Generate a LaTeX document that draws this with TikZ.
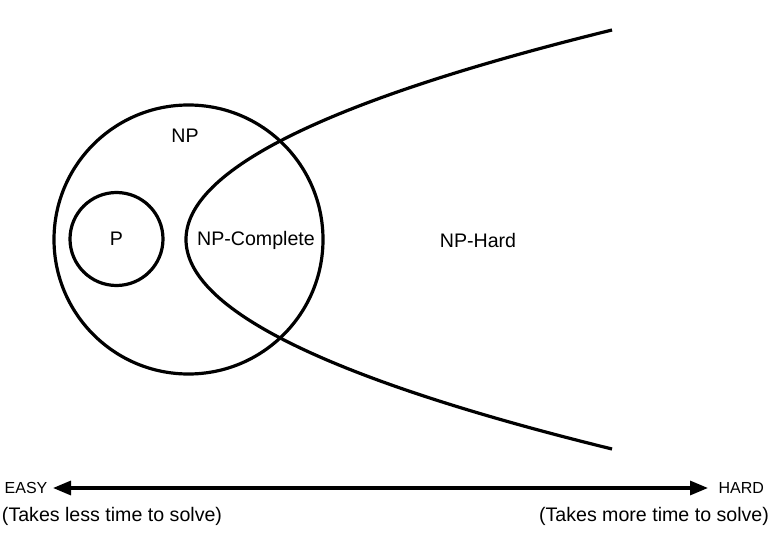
\documentclass[tikz,border=0pt]{standalone}
\usepackage{fontspec}
\setmainfont{Liberation Sans}
\usetikzlibrary{arrows.meta, positioning}

\begin{document}
\begin{tikzpicture}[x=0.5pt, y=-0.5pt, line width=1.6pt,
    set/.style={circle, draw, inner sep=0pt},
    lbl/.style={font=\fontsize{9.8}{12}\selectfont},
    tag/.style={font=\fontsize{8}{10}\selectfont}]
  \useasboundingbox (0,0) rectangle (777,540);
  % Sets
  \node[set, minimum size=134.5pt] (np) at (188.5,239.5) {};
  \node[set, minimum size=46.5pt] (p) at (116.5,239) {};
  % NP-Hard boundary
  \draw (612,30) .. controls (44,169.7) and (44,309.3) .. (612,449);
  % Labels
  \node[lbl] (nplbl) at (185,136) {NP};
  \node[lbl] (plbl) at (p) {P};
  \node[lbl] (npc) at (256,240) {NP-Complete};
  \node[lbl] (nph) at (478,240) {NP-Hard};
  % Difficulty axis
  \node[tag, anchor=east, inner xsep=2pt] (easy) at (53,488) {EASY};
  \node[tag, anchor=west, inner xsep=4.5pt] (hard) at (708,488) {HARD};
  \draw[{Triangle[length=9pt, width=7pt]}-{Triangle[length=9pt, width=7pt]}]
    (easy.east) -- (hard.west);
  \node[lbl] (less) at (112,516) {(Takes less time to solve)};
  \node[lbl] (more) at (654,516) {(Takes more time to solve)};
\end{tikzpicture}
\end{document}
